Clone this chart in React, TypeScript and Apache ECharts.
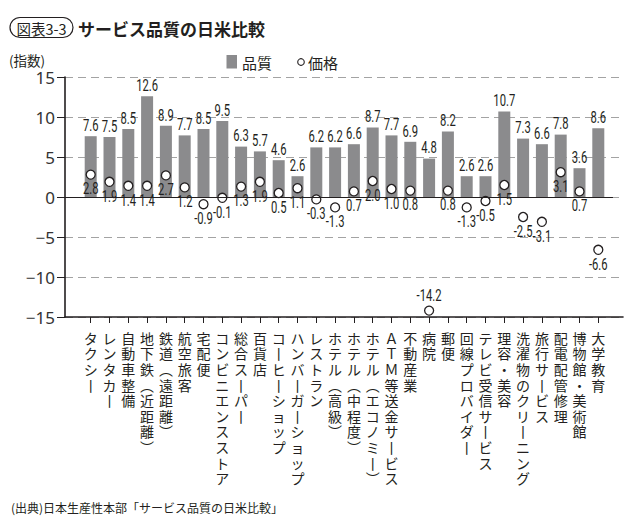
import React, { useEffect, useRef } from "react";
import * as echarts from "echarts";

const categories = [
  "タクシー", "レンタカー", "自動車整備", "地下鉄（近距離）", "鉄道（遠距離）", "航空旅客", "宅配便",
  "コンビニエンスストア", "総合スーパー", "百貨店", "コーヒーショップ", "ハンバーガーショップ", "レストラン",
  "ホテル（高級）", "ホテル（中程度）", "ホテル（エコノミー）", "ＡＴＭ等送金サービス", "不動産業", "病院", "郵便",
  "回線プロバイダー", "テレビ受信サービス", "理容・美容", "洗濯物のクリーニング", "旅行サービス", "配電配管修理",
  "博物館・美術館", "大学教育",
];
const quality = [7.6, 7.5, 8.5, 12.6, 8.9, 7.7, 8.5, 9.5, 6.3, 5.7, 4.6, 2.6, 6.2, 6.2, 6.6, 8.7, 7.7, 6.9, 4.8, 8.2, 2.6, 2.6, 10.7, 7.3, 6.6, 7.8, 3.6, 8.6];
const price = [2.8, 1.9, 1.4, 1.4, 2.7, 1.2, -0.9, -0.1, 1.3, 1.9, 0.5, 1.1, -0.3, -1.3, 0.7, 2.0, 1.0, 0.8, -14.2, 0.8, -1.3, -0.5, 1.5, -2.5, -3.1, 3.1, 0.7, -6.6];
const yMin = -15;
const yMax = 15;
const yInterval = 5;

const titleTag = "図表3-3";
const titleText = "サービス品質の日米比較";
const yUnit = "(指数)";
const legendNames = ["品質", "価格"];
const sourceText = "(出典)日本生産性本部「サービス品質の日米比較」";

const JP = '"Noto Sans CJK JP", "Noto Sans", sans-serif';
const NUM = 'Roboto, "Liberation Sans", sans-serif';
const BAR_COLOR = "#8b8b8d";
const INK = "#231f20";

const vmap: Record<string, string> = { "（": "︵", "）": "︶", "ー": "丨" };
const vert = (s: string) => Array.from(s).map((c) => vmap[c] ?? c).join("\n");

// condensed value labels drawn through the axes' own coordinate mapping
const makeLabelSeries = (values: number[], mode: "bar" | "point") => ({
  type: "custom",
  xAxisIndex: 0,
  yAxisIndex: 0,
  silent: true,
  clip: false,
  z: 5,
  data: values.map((v, i) => [i, v]),
  renderItem: (_params: any, api: any) => {
    const v = api.value(1);
    const pt = api.coord([api.value(0), v]);
    let y: number;
    let va: string;
    if (mode === "bar") {
      y = pt[1] - 2;
      va = "bottom";
    } else if (v < -10) {
      y = pt[1] - 6;
      va = "bottom";
    } else {
      y = pt[1] + 6;
      va = "top";
    }
    return {
      type: "text",
      x: pt[0],
      y,
      scaleX: 0.66,
      style: {
        text: Number(v).toFixed(1),
        fontFamily: NUM,
        fontSize: 17,
        fill: INK,
        align: "center",
        verticalAlign: va,
      },
    };
  },
});

export default function App() {
  const ref = useRef<HTMLDivElement>(null);
  useEffect(() => {
    if (!ref.current) return;
    const chart = echarts.init(ref.current, null, { renderer: "svg" });
    const gridTop = 77;
    const gridBottom = 527 - 317;
    chart.setOption({
      animation: false,
      backgroundColor: "#ffffff",
      textStyle: { fontFamily: JP },
      grid: [
        { left: 81.3, right: 32.3, top: gridTop, bottom: gridBottom },
        { left: 65, right: 17, top: gridTop, bottom: gridBottom },
      ],
      xAxis: [
        {
          type: "category",
          gridIndex: 0,
          data: categories,
          boundaryGap: true,
          axisLine: { show: false, onZero: false },
          axisTick: { show: true, alignWithLabel: true, length: 6, lineStyle: { color: INK, width: 1 } },
          axisLabel: {
            interval: 0,
            margin: 13,
            formatter: (v: string) => vert(v),
            fontFamily: JP,
            fontSize: 14,
            lineHeight: 15.6,
            color: INK,
            verticalAlign: "top",
            align: "center",
          },
          splitLine: { show: false },
        },
        {
          type: "value",
          gridIndex: 1,
          min: 0,
          max: 1,
          axisLine: { show: true, onZero: false, lineStyle: { color: INK, width: 1.6 } },
          axisTick: { show: false },
          axisLabel: { show: false },
          splitLine: { show: false },
        },
      ],
      yAxis: [
        {
          type: "value",
          gridIndex: 0,
          min: yMin,
          max: yMax,
          interval: yInterval,
          show: false,
        },
        {
          type: "value",
          gridIndex: 1,
          min: yMin,
          max: yMax,
          interval: yInterval,
          axisLine: { show: true, onZero: false, lineStyle: { color: INK, width: 1.6 } },
          axisTick: { show: true, length: 8, lineStyle: { color: INK, width: 1 } },
          axisLabel: {
            margin: 10,
            fontFamily: '"Noto Sans", sans-serif',
            fontSize: 17,
            color: "#333",
            formatter: (v: number) => (v < 0 ? "\u2212" + Math.abs(v) : String(v)),
          },
          splitLine: { show: true, lineStyle: { color: "#a3a3a3", type: [8, 5], width: 1 } },
        },
      ],
      series: [
        {
          name: legendNames[0],
          type: "bar",
          xAxisIndex: 0,
          yAxisIndex: 0,
          data: quality,
          barWidth: 12,
          itemStyle: { color: BAR_COLOR },
        },
        {
          name: legendNames[1],
          type: "scatter",
          xAxisIndex: 0,
          yAxisIndex: 0,
          symbol: "circle",
          symbolSize: 9,
          itemStyle: { color: "#ffffff", borderColor: INK, borderWidth: 1.3, opacity: 1 },
          data: price,
          z: 3,
        },
        makeLabelSeries(quality, "bar"),
        makeLabelSeries(price, "point"),
        {
          type: "line",
          xAxisIndex: 1,
          yAxisIndex: 1,
          data: [],
          markLine: {
            silent: true,
            symbol: "none",
            label: { show: false },
            lineStyle: { color: INK, type: "solid", width: 1.2 },
            data: [[{ coord: [0, 0] }, { coord: [0.982, 0] }]],
          },
        },
      ],
      graphic: [
        {
          type: "rect",
          shape: { x: 10, y: 17.5, width: 63, height: 20, r: 10 },
          style: { fill: "none", stroke: INK, lineWidth: 1.2 },
        },
        {
          type: "text",
          x: 41.5,
          y: 28,
          style: { text: titleTag, fontFamily: JP, fontSize: 14.5, fill: INK, align: "center", verticalAlign: "middle" },
        },
        {
          type: "text",
          x: 78,
          y: 28,
          style: { text: titleText, fontFamily: JP, fontSize: 17, fontWeight: "bold", fill: INK, align: "left", verticalAlign: "middle" },
        },
        {
          type: "text",
          x: 9,
          y: 60,
          style: { text: yUnit, fontFamily: JP, fontSize: 13.5, fill: INK, align: "left", verticalAlign: "middle" },
        },
        {
          type: "rect",
          shape: { x: 226.5, y: 55, width: 10.5, height: 13.5 },
          style: { fill: BAR_COLOR },
        },
        {
          type: "text",
          x: 242,
          y: 62,
          style: { text: legendNames[0], fontFamily: JP, fontSize: 15, fill: INK, align: "left", verticalAlign: "middle" },
        },
        {
          type: "circle",
          shape: { cx: 301, cy: 62, r: 3.3 },
          style: { fill: "#fff", stroke: INK, lineWidth: 1.1 },
        },
        {
          type: "text",
          x: 308,
          y: 62,
          style: { text: legendNames[1], fontFamily: JP, fontSize: 15, fill: INK, align: "left", verticalAlign: "middle" },
        },
        {
          type: "text",
          x: 11,
          y: 507,
          style: { text: sourceText, fontFamily: JP, fontSize: 12, fill: INK, align: "left", verticalAlign: "middle" },
        },
      ],
    });
    return () => chart.dispose();
  }, []);
  return <div ref={ref} style={{ position: "absolute", left: 0, top: 0, width: 640, height: 527 }} />;
}
